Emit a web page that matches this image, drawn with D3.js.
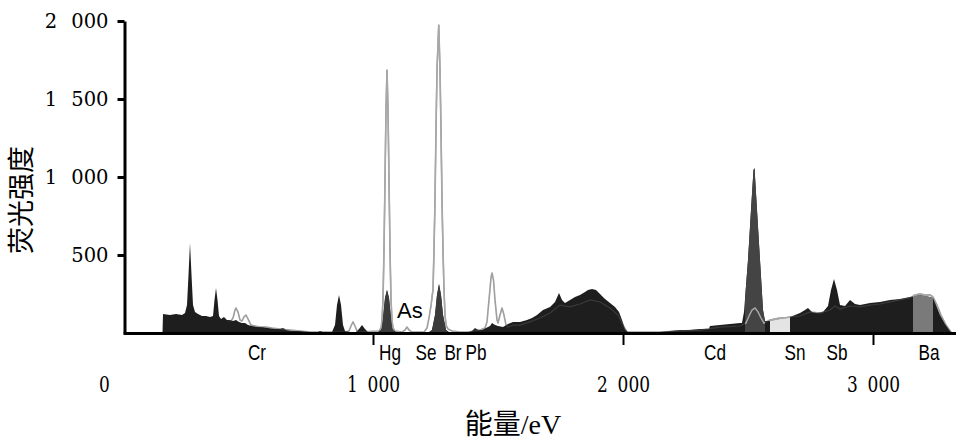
<!DOCTYPE html>
<html><head><meta charset="utf-8">
<script src="https://cdn.jsdelivr.net/npm/d3@7/dist/d3.min.js"></script>
<style>
html,body{margin:0;padding:0;background:#fff;}
svg{display:block;}
</style></head>
<body>
<svg id="chart" width="956" height="448"></svg>
<script>
// sample spectrum (filled, dark): [energy eV, intensity]
const sampleSpectrum = [[158,0],[160,122],[188,115],[212,122],[236,115],[248,128],[256,179],[262,372],[268,577],[274,372],[280,179],[288,135],[300,122],[316,109],[332,109],[348,103],[360,109],[366,212],[372,288],[378,212],[384,109],[392,90],[404,103],[416,83],[428,83],[440,77],[452,83],[464,71],[476,64],[488,64],[500,51],[516,45],[536,38],[556,38],[580,32],[608,26],[628,26],[640,32],[652,19],[676,13],[708,13],[748,6],[780,6],[788,13],[800,6],[836,6],[848,51],[856,179],[864,244],[872,179],[880,51],[888,13],[908,6],[932,6],[944,26],[956,51],[968,26],[980,6],[1020,6],[1032,19],[1040,96],[1048,224],[1056,276],[1064,224],[1072,96],[1080,19],[1092,6],[1188,6],[1224,6],[1236,19],[1248,115],[1256,244],[1264,314],[1272,244],[1280,115],[1292,19],[1304,6],[1380,6],[1396,13],[1408,32],[1420,19],[1436,19],[1452,32],[1468,45],[1476,64],[1488,51],[1500,45],[1520,38],[1540,58],[1560,71],[1588,71],[1616,83],[1636,96],[1656,115],[1680,147],[1708,167],[1728,199],[1744,256],[1756,212],[1768,192],[1788,212],[1808,231],[1828,244],[1848,263],[1860,276],[1876,282],[1892,276],[1908,250],[1928,218],[1948,192],[1968,167],[1984,135],[1996,83],[2008,26],[2020,6],[2148,6],[2188,13],[2228,19],[2268,19],[2308,26],[2344,26],[2348,45],[2388,51],[2428,58],[2468,64],[2476,64],[2484,135],[2500,468],[2512,788],[2522,1045],[2526,1058],[2536,788],[2548,468],[2560,147],[2568,77],[2588,77],[2608,83],[2628,90],[2648,96],[2668,103],[2688,115],[2708,128],[2728,147],[2740,160],[2756,135],[2776,128],[2800,135],[2820,173],[2832,276],[2844,346],[2856,276],[2868,179],[2888,173],[2908,212],[2928,186],[2948,179],[2988,192],[3028,199],[3068,212],[3108,218],[3148,231],[3168,237],[3188,244],[3208,237],[3228,231],[3240,224],[3252,179],[3268,115],[3288,58],[3308,13],[3320,0]];

// standard spectrum (grey outline): [energy eV, intensity]
const standardSpectrum = [[420,77],[432,77],[440,96],[448,147],[452,160],[460,135],[468,83],[476,77],[484,103],[492,115],[500,90],[512,51],[528,45],[548,38],[572,38],[596,32],[628,26],[668,19],[708,13],[748,6],[888,6],[904,13],[912,45],[920,71],[928,45],[936,13],[948,6],[1024,13],[1032,32],[1036,83],[1040,212],[1044,532],[1048,981],[1052,1429],[1056,1686],[1060,1429],[1064,981],[1068,532],[1072,212],[1076,83],[1080,32],[1088,13],[1116,6],[1128,19],[1136,38],[1144,19],[1156,6],[1204,6],[1216,32],[1224,96],[1232,179],[1240,276],[1244,532],[1248,853],[1252,1301],[1256,1686],[1263,1974],[1268,1686],[1272,1301],[1276,853],[1280,532],[1284,276],[1288,115],[1292,51],[1300,26],[1316,13],[1348,6],[1388,6],[1408,19],[1428,19],[1448,32],[1456,71],[1464,212],[1472,353],[1476,385],[1482,340],[1488,212],[1496,83],[1500,64],[1508,115],[1516,160],[1524,115],[1532,51],[1540,38],[1560,51],[1588,51],[1628,71],[1668,96],[1708,128],[1748,179],[1788,167],[1828,186],[1868,212],[1908,199],[1948,160],[1980,115],[2000,51],[2016,6],[2148,6],[2228,13],[2308,19],[2388,38],[2468,45],[2492,64],[2504,109],[2516,147],[2528,160],[2540,135],[2552,96],[2564,64],[2588,83],[2608,90],[2628,96],[2648,96],[2668,103],[2708,109],[2748,135],[2788,128],[2828,147],[2848,173],[2868,154],[2908,173],[2948,167],[2988,179],[3028,186],[3068,199],[3108,212],[3148,224],[3168,244],[3188,250],[3208,244],[3228,244],[3240,231],[3256,179],[3272,115],[3292,51],[3312,6]];

// element labels under the axis
const elementNames = ["Cr","Hg","Se","Br","Pb","Cd","Sn","Sb","Ba"];
const elementEnergies = [536,1068,1212,1320,1412,2368,2688,2856,3224];

// highlighted regions of interest
const roiNames = ["Hg","Br","Cd","Sn","Ba"];
const roiStart = [1032,1232,2488,2588,3160];
const roiEnd   = [1084,1296,2568,2668,3240];

// annotation inside the plot
const annoText = ["As"];
const annoEnergy = [1096];
const annoIntensity = [96];

const yTicks = [500,1000,1500,2000];
const xTicks = [0,1000,2000,3000];

const roiColor = {Hg:"#3b3b3b", Br:"#3b3b3b", Cd:"#444444", Sn:"#e4e4e4", Ba:"#7a7a7a"};

const svg = d3.select("#chart");
const x = d3.scaleLinear().domain([0,3332]).range([123,956]);
const y = d3.scaleLinear().domain([0,2000]).range([333,21]);

const fmt = d3.formatLocale({decimal:".", thousands:" ", grouping:[3], currency:["",""]}).format(",");

const area = d3.area().x(d=>x(d[0])).y0(y(0)).y1(d=>y(d[1]));
const line = d3.line().x(d=>x(d[0])).y(d=>y(d[1]));

const defs = svg.append("defs");
roiNames.forEach((n,i)=>{
  defs.append("clipPath").attr("id","roi"+i)
    .append("rect").attr("x",x(roiStart[i])).attr("width",x(roiEnd[i])-x(roiStart[i]))
    .attr("y",0).attr("height",448);
});
const allClip = defs.append("clipPath").attr("id","roiAll");
roiNames.forEach((n,i)=>{
  allClip.append("rect").attr("x",x(roiStart[i])).attr("width",x(roiEnd[i])-x(roiStart[i]))
    .attr("y",0).attr("height",448);
});

// grey line (under)
svg.append("path").datum(standardSpectrum).attr("d",line)
  .attr("fill","none").attr("stroke","#a0a0a0").attr("stroke-width",1.6).attr("stroke-linejoin","round");
// dark area
svg.append("path").datum(sampleSpectrum).attr("d",area).attr("fill","#1e1e1e");
// ROI fills
roiNames.forEach((n,i)=>{
  svg.append("path").datum(sampleSpectrum).attr("d",area)
    .attr("clip-path","url(#roi"+i+")").attr("fill",roiColor[n]);
});
// faint grey line on top
svg.append("path").datum(standardSpectrum).attr("d",line)
  .attr("fill","none").attr("stroke","#a0a0a0").attr("stroke-width",1.2).attr("stroke-opacity",0.22);
// grey line visible in ROI
svg.append("path").datum(standardSpectrum).attr("d",line).attr("clip-path","url(#roiAll)")
  .attr("fill","none").attr("stroke","#a8a8a8").attr("stroke-width",1.4);

// annotation
svg.selectAll("text.anno").data(annoText).enter().append("text").attr("class","anno")
  .attr("x",(d,i)=>x(annoEnergy[i])).attr("y",(d,i)=>y(annoIntensity[i]))
  .attr("font-family","Liberation Sans, Arial, sans-serif").attr("font-size",22).attr("fill","#000")
  .text(d=>d);

// y axis
const yAxis = svg.append("g").attr("transform",`translate(${x(0)+1.5},0)`)
  .call(d3.axisLeft(y).tickValues(yTicks).tickSize(7).tickSizeOuter(0).tickPadding(9).tickFormat(fmt));
yAxis.select(".domain").attr("stroke","#000").attr("stroke-width",3);
yAxis.selectAll(".tick line").attr("stroke","#000").attr("stroke-width",3);
yAxis.selectAll(".tick text").attr("font-family","DejaVu Serif, serif")
  .attr("font-size",19.5).attr("fill","#000").style("word-spacing","8px");

// x axis
const xAxis = svg.append("g").attr("transform",`translate(0,${y(0)})`)
  .call(d3.axisBottom(x).tickValues(xTicks).tickSize(12).tickSizeOuter(0).tickFormat(fmt));
xAxis.select(".domain").attr("stroke","#000").attr("stroke-width",3);
xAxis.selectAll(".tick line").attr("stroke","#000").attr("stroke-width",2)
  .attr("display",d=>d===0?"none":null);
xAxis.selectAll(".tick text").attr("y",59).attr("dy",0).attr("x",0)
  .attr("font-family","DejaVu Serif, serif")
  .attr("font-size",23).attr("fill","#000").style("word-spacing","6px")
  .attr("transform",d=>`translate(${d===0?-19:0},0) scale(0.74,1)`);

// element labels
svg.selectAll("text.el").data(elementNames).enter().append("text").attr("class","el")
  .attr("transform",(d,i)=>`translate(${x(elementEnergies[i])},${y(0)+27}) scale(0.78,1)`)
  .attr("text-anchor","middle")
  .attr("font-family","Liberation Sans, Arial, sans-serif")
  .attr("font-size",22).attr("fill","#000").text(d=>d);

// axis titles
svg.append("text").attr("transform","translate(19,200) rotate(-90)")
  .attr("text-anchor","middle").attr("dominant-baseline","central")
  .attr("font-family","Noto Sans CJK SC, sans-serif").attr("font-size",27).attr("fill","#000")
  .text("荧光强度");
svg.append("text").attr("x",513).attr("y",434).attr("text-anchor","middle")
  .attr("font-family","Liberation Serif, Noto Sans CJK SC, serif").attr("font-size",28).attr("fill","#000")
  .text("能量/eV");
</script>
</body></html>
